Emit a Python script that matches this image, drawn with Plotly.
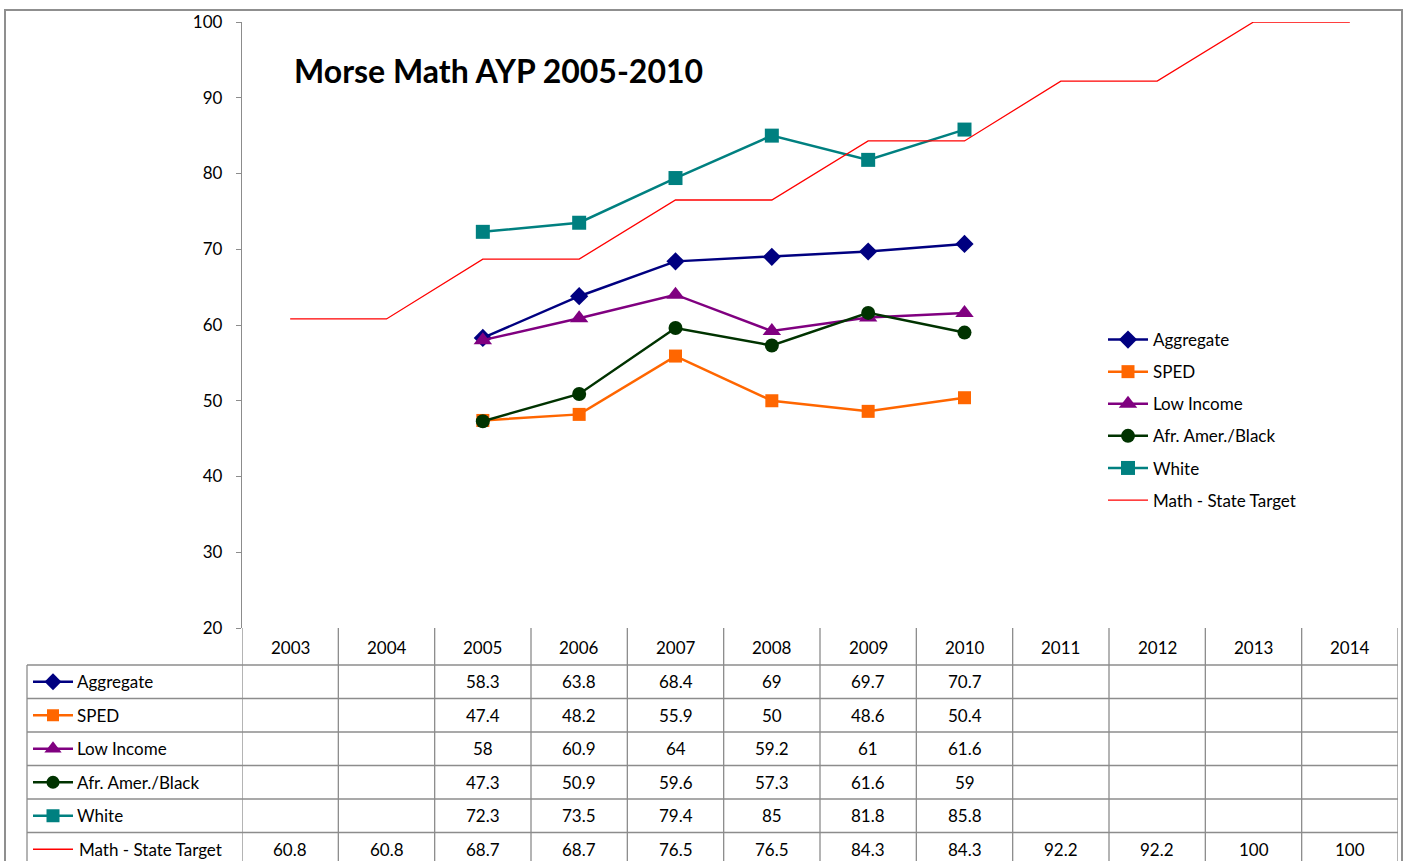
import plotly.graph_objects as go

# ---------------- data ----------------
years = ["2003", "2004", "2005", "2006", "2007", "2008",
         "2009", "2010", "2011", "2012", "2013", "2014"]
series_names = ["Aggregate", "SPED", "Low Income", "Afr. Amer./Black",
                "White", "Math - State Target"]
aggregate = [None, None, 58.3, 63.8, 68.4, 69, 69.7, 70.7, None, None, None, None]
sped = [None, None, 47.4, 48.2, 55.9, 50, 48.6, 50.4, None, None, None, None]
low_income = [None, None, 58, 60.9, 64, 59.2, 61, 61.6, None, None, None, None]
afr_amer = [None, None, 47.3, 50.9, 59.6, 57.3, 61.6, 59, None, None, None, None]
white = [None, None, 72.3, 73.5, 79.4, 85, 81.8, 85.8, None, None, None, None]
state_target = [60.8, 60.8, 68.7, 68.7, 76.5, 76.5, 84.3, 84.3, 92.2, 92.2, 100, 100]
title_text = "Morse Math AYP 2005-2010"
y_ticks = [20, 30, 40, 50, 60, 70, 80, 90, 100]

# ---------------- styles ----------------
W, H = 1405, 861
FONT = "Lato, 'Open Sans', sans-serif"
GRID = "#8c8c8c"
styles = [
    dict(color="#000080", symbol="diamond", size=14, mode="lines+markers", width=2.5),
    dict(color="#FF6600", symbol="square", size=13, mode="lines+markers", width=2.5),
    dict(color="#800080", symbol="triangle-up", size=16, mode="lines+markers", width=2.5),
    dict(color="#003300", symbol="circle", size=14, mode="lines+markers", width=2.5),
    dict(color="#008080", symbol="square", size=14, mode="lines+markers", width=2.5),
    dict(color="#FF0000", symbol="circle", size=0, mode="lines", width=1.3),
]
all_series = [aggregate, sped, low_income, afr_amer, white, state_target]


def px(x):
    return x / W


def py(y):
    return (H - y) / H


fig = go.Figure()

# main chart traces
for name, vals, st in zip(series_names, all_series, styles):
    fig.add_trace(go.Scatter(
        x=years, y=vals, name=name, mode=st["mode"],
        line=dict(color=st["color"], width=st["width"]),
        marker=dict(symbol=st["symbol"], size=st["size"], color=st["color"],
                    line=dict(width=0)),
        connectgaps=False, cliponaxis=False, legendgroup=name,
        xaxis="x", yaxis="y", hoverinfo="x+y+name",
    ))

# legend keys inside the data table (left column)
for name, st in zip(series_names, styles):
    fig.add_trace(go.Scatter(
        x=[0, 1], y=[name, name], mode="lines",
        line=dict(color=st["color"], width=st["width"]),
        showlegend=False, hoverinfo="skip", xaxis="x2", yaxis="y2",
        cliponaxis=False,
    ))
    if st["size"] > 0:
        fig.add_trace(go.Scatter(
            x=[0.5], y=[name], mode="markers",
            marker=dict(symbol=st["symbol"], size=st["size"] - 1,
                        color=st["color"], line=dict(width=0)),
            showlegend=False, hoverinfo="skip", xaxis="x2", yaxis="y2",
            cliponaxis=False,
        ))

# ---------------- table geometry ----------------
row_top = 665
row_h = 33.5
n_rows = len(series_names)
shapes = []
annotations = []

# outer chart border
shapes.append(dict(type="rect", xref="paper", yref="paper",
                   x0=px(5), x1=px(1402), y0=py(870), y1=py(10),
                   line=dict(color="#8f8f8f", width=2), layer="below"))

# horizontal table lines
for i in range(n_rows + 1):
    yy = row_top + i * row_h
    shapes.append(dict(type="line", xref="paper", yref="paper",
                       x0=px(27), x1=px(1398), y0=py(yy), y1=py(yy),
                       line=dict(color=GRID, width=1.3)))
# vertical table lines (category boundaries)
for i in range(len(years) + 1):
    shapes.append(dict(type="line", xref="x", yref="paper",
                       x0=i - 0.5, x1=i - 0.5, y0=py(628), y1=py(870),
                       line=dict(color=GRID, width=1.3)))
# left column border
shapes.append(dict(type="line", xref="paper", yref="paper",
                   x0=px(27), x1=px(27), y0=py(row_top), y1=py(870),
                   line=dict(color=GRID, width=1.3)))

# header (years)
for i, yr in enumerate(years):
    annotations.append(dict(x=i, xref="x", y=py(647), yref="paper",
                            text=yr, showarrow=False, xanchor="center",
                            yanchor="middle",
                            font=dict(family=FONT, size=17, color="#000")))
# row labels + values
for r, (name, vals) in enumerate(zip(series_names, all_series)):
    cy = row_top + row_h * (r + 0.5)
    annotations.append(dict(x=px(75 if r < 5 else 77), xref="paper", y=py(cy),
                            yref="paper", text=name, showarrow=False,
                            xanchor="left", yanchor="middle",
                            font=dict(family=FONT, size=17, color="#000")))
    for i, v in enumerate(vals):
        if v is None:
            continue
        annotations.append(dict(x=i, xref="x", y=py(cy), yref="paper",
                                text=f"{v:g}", showarrow=False,
                                xanchor="center", yanchor="middle",
                                font=dict(family=FONT, size=17, color="#000")))

# title
annotations.append(dict(x=px(292), xref="paper", y=py(71), yref="paper",
                        text=f"<b>{title_text}</b>", showarrow=False,
                        xanchor="left", yanchor="middle",
                        font=dict(family=FONT, size=32, color="#000")))

# key row mapping for the table icons
icon_center0 = row_top + row_h / 2
y2_top = (row_top - icon_center0) / row_h
y2_bot = (H - icon_center0) / row_h

fig.update_layout(
    width=W, height=H, autosize=False,
    margin=dict(l=0, r=0, t=0, b=0, autoexpand=False),
    paper_bgcolor="white", plot_bgcolor="white",
    font=dict(family=FONT, size=17, color="#000"),
    xaxis=dict(domain=[px(242), px(1398)], type="category",
               categoryorder="array", categoryarray=years,
               range=[-0.5, len(years) - 0.5], showticklabels=False,
               ticks="", showgrid=False, zeroline=False, showline=False,
               fixedrange=True, automargin=False),
    yaxis=dict(domain=[py(628), py(22)], range=[20, 100],
               tickvals=y_ticks, ticks="outside", ticklen=5,
               tickcolor=GRID, tickwidth=1.3, showline=True,
               linecolor=GRID, linewidth=1.3, showgrid=False,
               zeroline=False, ticklabelstandoff=10, automargin=False,
               tickfont=dict(family=FONT, size=17, color="#000"),
               fixedrange=True),
    xaxis2=dict(domain=[px(27), px(242)], range=[-0.15, (242 - 33) / 40],
                visible=False, fixedrange=True, anchor="y2"),
    yaxis2=dict(domain=[0, py(row_top)], type="category",
                categoryorder="array", categoryarray=series_names,
                range=[y2_bot, y2_top], visible=False, fixedrange=True,
                anchor="x2"),
    legend=dict(x=px(1103), y=py(322), xanchor="left", yanchor="top",
                font=dict(family=FONT, size=17, color="#000"),
                bgcolor="rgba(0,0,0,0)", traceorder="grouped",
                tracegroupgap=7, itemwidth=40),
    shapes=shapes, annotations=annotations, showlegend=True,
)

fig.write_html("out.html", config={"displayModeBar": False},
               post_script="document.body.style.margin='0';")
